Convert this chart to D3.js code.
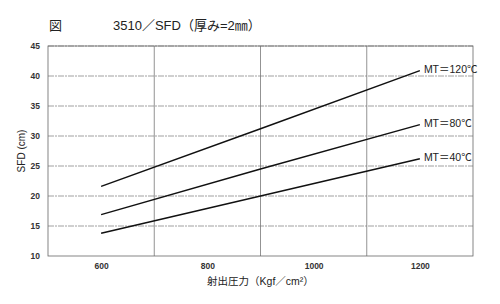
<!DOCTYPE html>
<html>
<head>
<meta charset="utf-8">
<script src="https://cdn.jsdelivr.net/npm/d3@7"></script>
<style>
  body { margin: 0; background: #fff; }
  svg { display: block; }
  .axis text { font-family: "Liberation Sans", Arial, sans-serif; }
</style>
</head>
<body>
<svg id="chart"></svg>
<script>
// 射出圧力 (Kgf/cm2)
const pressure = [600, 900, 1200];
// SFD (cm) for each mold temperature
const mt120 = [21.6, 31.2, 40.9];
const mt80 = [16.9, 24.5, 31.9];
const mt40 = [13.8, 20.0, 26.2];
const seriesLabels = ['MT＝120℃', 'MT＝80℃', 'MT＝40℃'];
const xTicks = [600, 800, 1000, 1200];
const xGrid = [700, 900, 1100];
const yTicks = [10, 15, 20, 25, 30, 35, 40, 45];

const W = 500, H = 304;
const margin = { top: 46, right: 27, bottom: 48, left: 48 };
const width = W - margin.left - margin.right;
const height = H - margin.top - margin.bottom;
const font = '"Liberation Sans", "Noto Sans CJK JP", sans-serif';

const svg = d3.select('#chart').attr('width', W).attr('height', H);
const chart = svg.append('g').attr('transform', `translate(${margin.left},${margin.top})`);

const x = d3.scaleLinear().domain([500, 1300]).range([0, width]);
const y = d3.scaleLinear().domain([10, 45]).range([height, 0]);

// horizontal dashed grid
chart.selectAll('.hgrid')
  .data(yTicks.slice(1))
  .enter().append('line')
  .attr('class', 'hgrid')
  .attr('x1', 0).attr('x2', width)
  .attr('y1', d => y(d)).attr('y2', d => y(d))
  .attr('stroke', '#888')
  .attr('stroke-width', 0.8)
  .attr('stroke-dasharray', '6,1,2,1');

// vertical grid
chart.selectAll('.vgrid')
  .data(xGrid)
  .enter().append('line')
  .attr('class', 'vgrid')
  .attr('x1', d => x(d)).attr('x2', d => x(d))
  .attr('y1', 0).attr('y2', height)
  .attr('stroke', '#777')
  .attr('stroke-width', 0.8);

// frame
chart.append('rect')
  .attr('width', width).attr('height', height)
  .attr('fill', 'none')
  .attr('stroke', '#666')
  .attr('stroke-width', 0.8);

chart.append('g')
  .attr('class', 'axis')
  .call(d3.axisLeft(y).tickValues(yTicks).tickSize(0).tickPadding(8))
  .call(g => g.select('.domain').remove())
  .selectAll('text')
  .style('font-size', '8.5px')
  .style('font-weight', 'bold')
  .style('fill', '#333');

chart.append('g')
  .attr('class', 'axis')
  .attr('transform', `translate(0,${height})`)
  .call(d3.axisBottom(x).tickValues(xTicks).tickFormat(d3.format('d')).tickSize(0).tickPadding(7))
  .call(g => g.select('.domain').remove())
  .selectAll('text')
  .style('font-size', '8.5px')
  .style('font-weight', 'bold')
  .style('fill', '#333');

// axis titles
svg.append('text')
  .attr('transform', `translate(25,${margin.top + y(27.5)}) rotate(-90)`)
  .attr('text-anchor', 'middle')
  .style('font-family', font)
  .style('font-size', '10px')
  .style('fill', '#222')
  .text('SFD (cm)');

svg.append('text')
  .attr('x', margin.left + x(900))
  .attr('y', 285)
  .attr('text-anchor', 'middle')
  .style('font-family', font)
  .style('font-size', '10.5px')
  .style('fill', '#222')
  .text('射出圧力（Kgf／cm²）');

// title
svg.append('text')
  .attr('x', 49).attr('y', 30)
  .style('font-family', font)
  .style('font-size', '13px')
  .style('fill', '#222')
  .text('図');

svg.append('text')
  .attr('x', 113).attr('y', 30)
  .style('font-family', font)
  .style('font-size', '13px')
  .style('fill', '#222')
  .text('3510／SFD（厚み=2㎜）');

// lines
const series = [mt120, mt80, mt40];
const line = d3.line()
  .x((d, i) => x(pressure[i]))
  .y(d => y(d));

const serie = chart.selectAll('.serie')
  .data(series)
  .enter().append('g')
  .attr('class', 'serie');

serie.append('path')
  .attr('fill', 'none')
  .attr('stroke', '#111')
  .attr('stroke-width', 1.5)
  .attr('d', line);

serie.append('text')
  .attr('x', x(pressure[pressure.length - 1]) + 4)
  .attr('y', d => y(d[d.length - 1]) + 2)
  .style('font-family', font)
  .style('font-size', '10.5px')
  .style('fill', '#222')
  .text((d, i) => seriesLabels[i]);
</script>
</body>
</html>
